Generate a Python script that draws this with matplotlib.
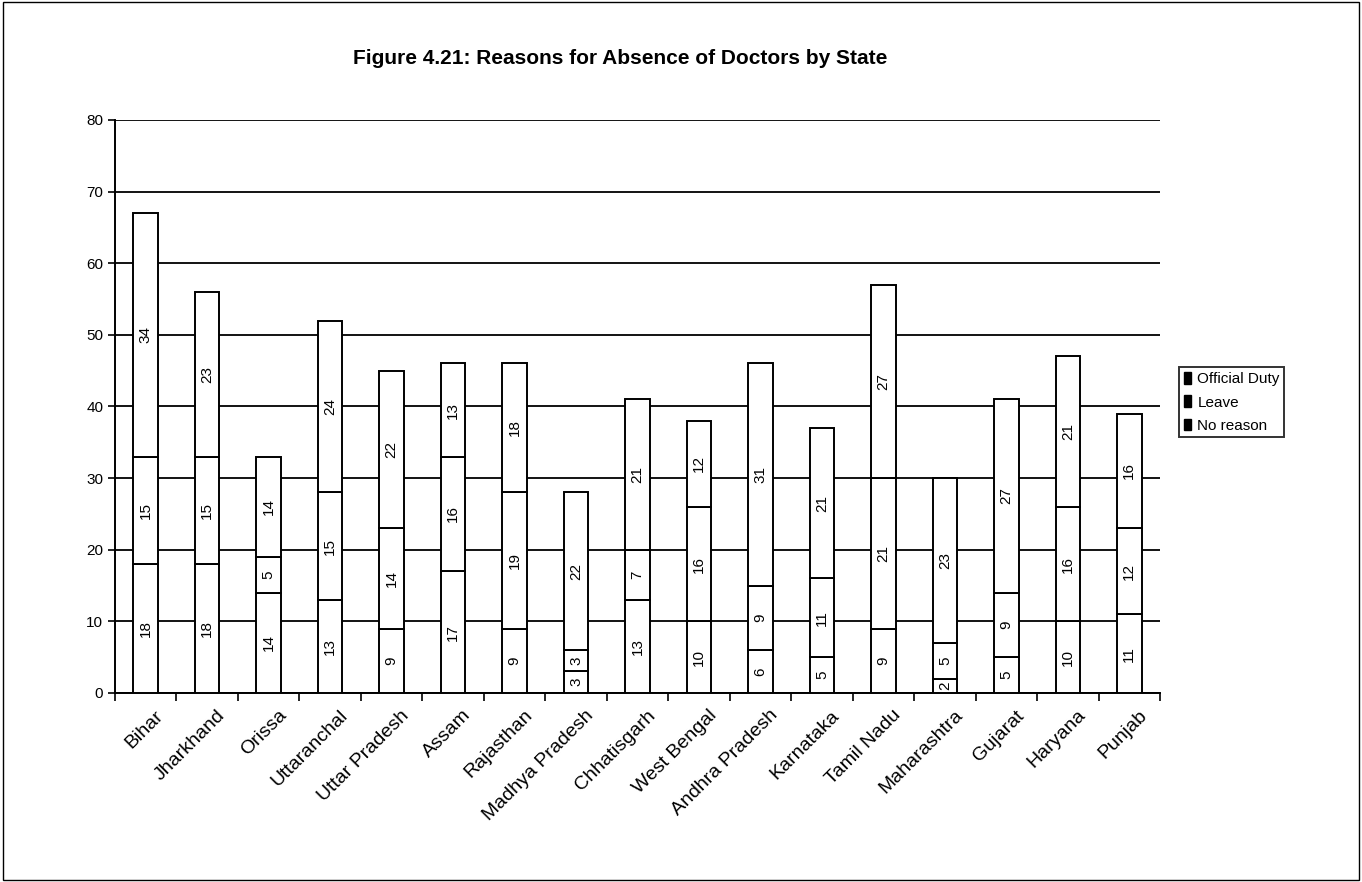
import matplotlib.pyplot as plt
from matplotlib.patches import Rectangle, Patch
import numpy as np

plt.rcParams['font.family'] = ['Liberation Sans', 'DejaVu Sans']

states = ["Bihar", "Jharkhand", "Orissa", "Uttaranchal", "Uttar Pradesh", "Assam",
          "Rajasthan", "Madhya Pradesh", "Chhatisgarh", "West Bengal", "Andhra Pradesh",
          "Karnataka", "Tamil Nadu", "Maharashtra", "Gujarat", "Haryana", "Punjab"]
official = [18, 18, 14, 13, 9, 17, 9, 3, 13, 10, 6, 5, 9, 2, 5, 10, 11]
leave = [15, 15, 5, 15, 14, 16, 19, 3, 7, 16, 9, 11, 21, 5, 9, 16, 12]
no_reason = [34, 23, 14, 24, 22, 13, 18, 22, 21, 12, 31, 21, 27, 23, 27, 21, 16]
series_names = ["Official Duty", "Leave", "No reason"]

fig = plt.figure(figsize=(13.62, 8.82), dpi=100)
ax = fig.add_axes([0.0844, 0.2143, 0.7673, 0.6497])

x = np.arange(len(states))
width = 0.4
bottom = np.zeros(len(states))
for vals in (official, leave, no_reason):
    vals = np.array(vals)
    ax.bar(x, vals, width, bottom=bottom, facecolor="white", edgecolor="black",
           linewidth=1.4, zorder=3)
    for xi, b, v in zip(x, bottom, vals):
        ax.text(xi, b + v / 2, str(v), rotation=90, ha="center", va="center",
                fontsize=11, zorder=4)
    bottom += vals

ax.set_xlim(-0.5, len(states) - 0.5)
ax.set_ylim(0, 80)
ax.set_yticks(range(0, 81, 10))
ax.yaxis.grid(True, color="black", linewidth=1.3)
ax.set_axisbelow(True)
ax.tick_params(axis="y", labelsize=11, length=5, width=1.2, direction="out")

ax.set_xticks(x + 0.15)
ax.set_xticklabels(states, rotation=45, ha="right", rotation_mode="anchor",
                   fontsize=14)
ax.set_xticks(np.arange(-0.5, len(states)), minor=True)
ax.tick_params(axis="x", which="major", length=0, pad=10)
ax.tick_params(axis="x", which="minor", length=6, width=1.2)

for side in ("top", "right"):
    ax.spines[side].set_visible(False)
for side in ("left", "bottom"):
    ax.spines[side].set_linewidth(1.4)

fig.text(0.455, 0.934, "Figure 4.21: Reasons for Absence of Doctors by State",
         ha="center", va="center", fontsize=15, fontweight="bold")

handles = [Patch(facecolor="black", edgecolor="black") for _ in series_names]
leg = fig.legend(handles, series_names, loc="upper left",
                 bbox_to_anchor=(0.86, 0.592), bbox_transform=fig.transFigure,
                 fontsize=11, frameon=True, fancybox=False, handlelength=0.5,
                 handleheight=0.8, handletextpad=0.4, borderpad=0.3,
                 labelspacing=0.6)
leg.get_frame().set_edgecolor("black")
leg.get_frame().set_linewidth(1.4)

fig.patches.append(Rectangle((0.002, 0.002), 0.996, 0.996, transform=fig.transFigure,
                             fill=False, edgecolor="black", linewidth=1))

fig.savefig("out.png", dpi=100)
